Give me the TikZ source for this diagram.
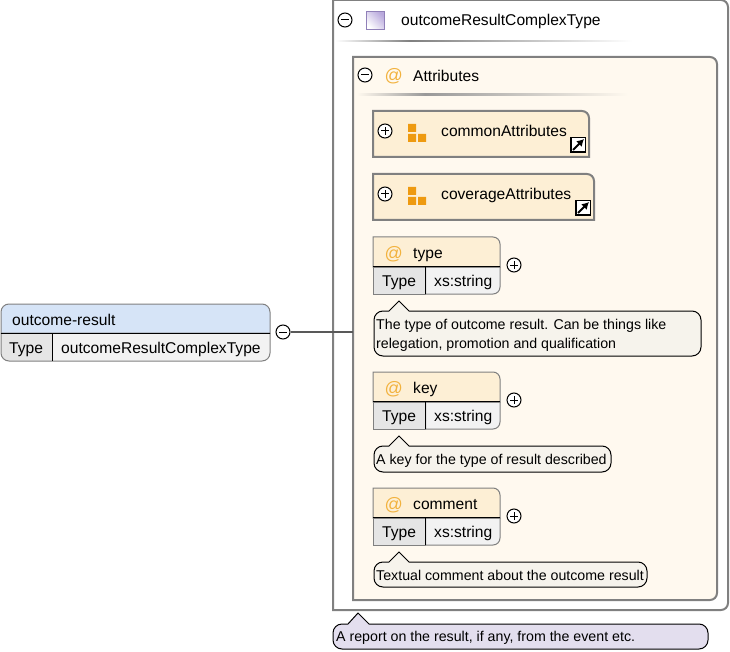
\documentclass[tikz,border=0pt]{standalone}
\usepackage{fontspec}
\setmainfont{Liberation Sans}
\usetikzlibrary{arrows.meta}
\definecolor{attrfill}{HTML}{FFF9EF}
\definecolor{headfill}{HTML}{FDEFD5}
\definecolor{notefill}{HTML}{F6F3EC}
\definecolor{typenote}{HTML}{E3DEEE}
\definecolor{elemfill}{HTML}{D6E4F7}
\definecolor{atcolor}{HTML}{F2B23E}
\definecolor{sqcolor}{HTML}{EE9A10}
\definecolor{boxline}{HTML}{808080}
\definecolor{typeline}{HTML}{9080B8}
\definecolor{typedark}{HTML}{B8A8DC}
\tikzset{
	txt/.style={anchor=base west, inner sep=0pt, font=\fontsize{15.6}{18}\selectfont},
	small/.style={anchor=base west, inner sep=0pt, font=\fontsize{14.2}{16}\selectfont},
	atsign/.style={anchor=base west, inner sep=0pt, font=\fontsize{18}{20}\selectfont, text=atcolor},
	frame/.style={draw=boxline, line width=2pt},
	cell/.style={draw=boxline, line width=1pt},
	note/.style={draw=black, line width=1pt},
	tglbase/.style={circle, draw=black, fill=white, line width=1pt, minimum size=14pt, inner sep=0pt},
	tglminus/.style={tglbase, path picture={\draw[line width=1pt] ([xshift=-4pt]path picture bounding box.center)--([xshift=4pt]path picture bounding box.center);}},
	tglplus/.style={tglbase, path picture={\draw[line width=1pt] ([xshift=-4pt]path picture bounding box.center)--([xshift=4pt]path picture bounding box.center);
		\draw[line width=1pt] ([yshift=-4pt]path picture bounding box.center)--([yshift=4pt]path picture bounding box.center);}},
	link/.style={draw=black, fill=white, line width=1.5pt, minimum size=14.5pt, inner sep=0pt},
	linkarrow/.style={-{Latex[length=7pt,width=8pt]}, line width=2pt},
	sq/.style={fill=sqcolor}
}
\begin{document}
\begin{tikzpicture}[x=1pt, y=-1pt]
	\useasboundingbox (0,0) rectangle (730,652);
	% outer type box
	\draw[frame, fill=white] (333,300) -- (333,610) [rounded corners=7] -- (728,610) -- (728,0) [sharp corners] -- (333,0) -- cycle;
	\node[tglminus] (typeMinus) at (345,20) {};
	\draw[draw=typeline, left color=white, right color=typedark, shading angle=135] (366.5,11.5) rectangle (384.5,29.5);
	\node[txt] (typeName) at (401,26) {outcomeResultComplexType};
	\shade[left color=white, right color=black!50] (335,40.5) rectangle (410,42);
	\shade[left color=black!50, right color=white] (410,40.5) rectangle (632,42);

	% attributes box
	\draw[frame, fill=attrfill] (353,300) -- (353,600) [rounded corners=7] -- (717,600) -- (717,57) [sharp corners] -- (353,57) -- cycle;
	\node[tglminus] (attrsMinus) at (365,75) {};
	\node[atsign] (attrsAt) at (384.5,82) {@};
	\node[txt] (attrsName) at (413,82) {Attributes};
	\shade[left color=attrfill, right color=black!40] (357,94) rectangle (425,95.5);
	\shade[left color=black!40, right color=attrfill] (425,94) rectangle (628,95.5);

	% attribute groups
	\draw[frame, fill=headfill] (373,130) -- (373,157) -- (589,157) [rounded corners=7] -- (589,111) [sharp corners] -- (373,111) -- cycle;
	\node[tglplus] (commonPlus) at (385,131) {};
	\fill[sq] (408,124) rectangle (416,132) (408,134) rectangle (416,142) (418,134) rectangle (426,142);
	\node[txt] (commonName) at (441,137) {commonAttributes};
	\node[link] (commonLink) at (578,145) {};
	\draw[linkarrow] ([xshift=3pt,yshift=3pt]commonLink.south west) -- ([xshift=-2pt,yshift=-2pt]commonLink.north east);

	\draw[frame, fill=headfill] (373,193) -- (373,220) -- (594,220) [rounded corners=7] -- (594,174) [sharp corners] -- (373,174) -- cycle;
	\node[tglplus] (coveragePlus) at (385,194) {};
	\fill[sq] (408,187) rectangle (416,195) (408,197) rectangle (416,205) (418,197) rectangle (426,205);
	\node[txt] (coverageName) at (441,200) {coverageAttributes};
	\node[link] (coverageLink) at (583,208) {};
	\draw[linkarrow] ([xshift=3pt,yshift=3pt]coverageLink.south west) -- ([xshift=-2pt,yshift=-2pt]coverageLink.north east);

	% type
	\draw[cell, fill=black!10] (373,267) rectangle (425.5,294);
	\draw[cell, fill=black!5] (425.5,267) -- (425.5,294) [rounded corners=7] -- (500,294) [sharp corners] -- (500,267) -- cycle;
	\draw[cell, fill=headfill] (373,267) -- (373,237) [rounded corners=7] -- (500,237) [sharp corners] -- (500,267) -- cycle;
	\draw[black, line width=1pt] (373,266.5) -- (500,266.5) (425.5,267) -- (425.5,294);
	\node[atsign] (typeAt) at (384.5,259) {@};
	\node[txt] (typeAttr) at (413,258.5) {type};
	\node[txt] (typeKey) at (382,286) {Type};
	\node[txt] (typeVal) at (434,286) {xs:string};
	\node[tglplus] (typePlus) at (514,265) {};
	\draw[note, fill=notefill] (389,311) -- (399,301) -- (409,311) [rounded corners=9] -- (701,311) -- (701,356) -- (374,356) -- (374,311) -- (389,311);
	\node[small] (typeNote1) at (376,329) {The type of outcome result. Can be things like};
	\node[small] (typeNote2) at (376,348) {relegation, promotion and qualification};

	% key
	\draw[cell, fill=black!10] (373,402) rectangle (425.5,429);
	\draw[cell, fill=black!5] (425.5,402) -- (425.5,429) [rounded corners=7] -- (500,429) [sharp corners] -- (500,402) -- cycle;
	\draw[cell, fill=headfill] (373,402) -- (373,372) [rounded corners=7] -- (500,372) [sharp corners] -- (500,402) -- cycle;
	\draw[black, line width=1pt] (373,401.5) -- (500,401.5) (425.5,402) -- (425.5,429);
	\node[atsign] (keyAt) at (384.5,394) {@};
	\node[txt] (keyAttr) at (413,393) {key};
	\node[txt] (keyKey) at (382,421) {Type};
	\node[txt] (keyVal) at (434,421) {xs:string};
	\node[tglplus] (keyPlus) at (514,400) {};
	\draw[note, fill=notefill] (389,446) -- (399,436) -- (409,446) [rounded corners=9] -- (611,446) -- (611,472) -- (374,472) -- (374,446) -- (389,446);
	\node[small] (keyNote) at (376,464) {A key for the type of result described};

	% comment
	\draw[cell, fill=black!10] (373,518) rectangle (425.5,545);
	\draw[cell, fill=black!5] (425.5,518) -- (425.5,545) [rounded corners=7] -- (500,545) [sharp corners] -- (500,518) -- cycle;
	\draw[cell, fill=headfill] (373,518) -- (373,488) [rounded corners=7] -- (500,488) [sharp corners] -- (500,518) -- cycle;
	\draw[black, line width=1pt] (373,517.5) -- (500,517.5) (425.5,518) -- (425.5,545);
	\node[atsign] (commentAt) at (384.5,510) {@};
	\node[txt] (commentAttr) at (413,509) {comment};
	\node[txt] (commentKey) at (382,537) {Type};
	\node[txt] (commentVal) at (434,537) {xs:string};
	\node[tglplus] (commentPlus) at (514,516) {};
	\draw[note, fill=notefill] (389,562) -- (399,552) -- (409,562) [rounded corners=9] -- (647,562) -- (647,587) -- (374,587) -- (374,562) -- (389,562);
	\node[small] (commentNote) at (376,580) {Textual comment about the outcome result};

	% note of the type
	\draw[note, fill=typenote] (348,624) -- (358,613) -- (369,624) [rounded corners=9] -- (708,624) -- (708,649) -- (333,649) -- (333,624) -- (348,624);
	\node[small] (resultNote) at (336,641) {A report on the result, if any, from the event etc.};

	% element
	\fill[black!10] (1,333) [rounded corners=8] -- (1,361) [sharp corners] -- (52,361) -- (52,333) -- cycle;
	\fill[black!5] (52,333) -- (52,361) [rounded corners=8] -- (270,361) [sharp corners] -- (270,333) -- cycle;
	\draw[cell, fill=elemfill] (1,333) [rounded corners=8] -- (1,304) -- (270,304) [sharp corners] -- (270,333) -- cycle;
	\draw[cell] (1,333) [rounded corners=8] -- (1,361) -- (270,361) [sharp corners] -- (270,333);
	\draw[black, line width=1pt] (1,333) -- (270,333) (52.5,333) -- (52.5,361);
	\node[txt] (elemName) at (12,325) {outcome-result};
	\node[txt] (elemKey) at (9,353) {Type};
	\node[txt] (elemVal) at (61,353) {outcomeResultComplexType};

	% connector
	\node[tglminus] (elemMinus) at (283,332) {};
	\coordinate (attrsLeft) at (353,332);
	\draw[draw=black!65, line width=2pt] (elemMinus) -- (attrsLeft);
\end{tikzpicture}
\end{document}
